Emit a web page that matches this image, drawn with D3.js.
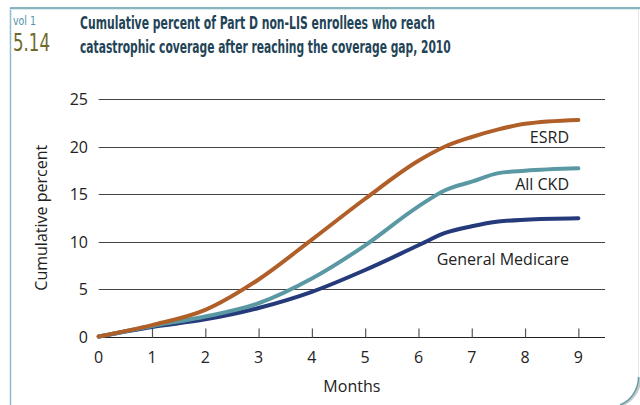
<!DOCTYPE html>
<html>
<head>
<meta charset="utf-8">
<script src="https://cdn.jsdelivr.net/npm/d3@7"></script>
<style>
  html, body { margin: 0; padding: 0; background: #fff; }
  svg { display: block; }
  text { font-family: "Open Sans", "Noto Sans", sans-serif; }
</style>
</head>
<body>
<svg id="chart" width="640" height="405"></svg>
<script>
// ---- data ----
const months      = [0, 1, 2, 3, 4, 5, 6, 6.5, 7, 7.5, 8, 9];
const esrd        = [0, 1.2, 2.8, 6.0, 10.2, 14.5, 18.5, 20.0, 21.0, 21.8, 22.4, 22.8];
const allCkd      = [0, 1.1, 2.1, 3.5, 6.1, 9.6, 13.7, 15.4, 16.3, 17.2, 17.45, 17.7];
const genMedicare = [0, 1.0, 1.8, 3.0, 4.7, 7.0, 9.6, 10.9, 11.6, 12.1, 12.3, 12.45];
const seriesNames = ["ESRD", "All CKD", "General Medicare"];
const xTicks = [1, 2, 3, 4, 5, 6, 7, 8, 9];
const xTickLabels = [0, 1, 2, 3, 4, 5, 6, 7, 8, 9];
const yTicks = [0, 5, 10, 15, 20, 25];

const svg = d3.select("#chart");

// ---- frame ----
svg.append("line").attr("x1", 10.5).attr("x2", 10.5).attr("y1", 8).attr("y2", 405)
  .attr("stroke", "#8fbdd0").attr("stroke-width", 1.5);
svg.append("line").attr("x1", 10).attr("x2", 640).attr("y1", 9.5).attr("y2", 9.5)
  .attr("stroke", "#dbe8ee").attr("stroke-width", 1);
svg.append("line").attr("x1", 10).attr("x2", 640).attr("y1", 8).attr("y2", 8)
  .attr("stroke", "#5f9ea8").attr("stroke-width", 1.5);
svg.append("line").attr("x1", 638.5).attr("x2", 638.5).attr("y1", 9).attr("y2", 377)
  .attr("stroke", "#e4e4e4").attr("stroke-width", 1);
svg.append("path").attr("d", "M640.5,377 A31,31 0 0 1 622,405")
  .attr("fill", "none").attr("stroke", "#c8c8c8").attr("stroke-width", 2.5);
svg.append("path").attr("d", "M638.5,377 A30,30 0 0 1 620,405")
  .attr("fill", "none").attr("stroke", "#5f9ea8").attr("stroke-width", 1.5);

// ---- titles (horizontally scaled to the reference widths) ----
const narrow = "'Liberation Sans Narrow', 'DejaVu Sans Condensed', 'Open Sans', sans-serif";
function fitText(str, x0, y0, width, size, weight, color) {
  const t = svg.append("text").attr("x", 0).attr("y", 0).text(str)
    .attr("fill", color).attr("font-size", size).attr("font-weight", weight)
    .style("font-family", narrow);
  const w = t.node().getComputedTextLength();
  t.attr("transform", `translate(${x0},${y0}) scale(${width / w},1)`);
  return t;
}
fitText("vol 1", 13, 24.5, 23, 13, 400, "#4d93a8");
fitText("5.14", 13, 50.5, 37, 25, 400, "#6f6a2a");
const titleLines = [
  "Cumulative percent of Part D non-LIS enrollees who reach",
  "catastrophic coverage after reaching the coverage gap, 2010"
];
const titleLens = [355, 371];
titleLines.forEach((t, i) => fitText(t, 80, 28.5 + i * 24.5, titleLens[i], 18.5, 700, "#1f4457"));

// ---- scales ----
const x = d3.scaleLinear().domain([0, 9.5]).range([98.7, 605]);
const y = d3.scaleLinear().domain([0, 25]).range([336.5, 99]);

// gridlines
svg.append("g").selectAll("line").data(yTicks.filter(d => d > 0)).join("line")
  .attr("x1", x(0)).attr("x2", x(9.5))
  .attr("y1", d => Math.round(y(d)) + 0.5).attr("y2", d => Math.round(y(d)) + 0.5)
  .attr("stroke", "#444").attr("stroke-width", 1);

// x axis
const xAxis = d3.axisBottom(x).tickValues(xTicks).tickSize(-9).tickFormat("");
const gx = svg.append("g").attr("transform", `translate(0,${Math.round(y(0)) + 0.5})`).call(xAxis);
gx.select(".domain").attr("d", `M${x(0)},0H${x(9.5)}`).attr("stroke", "#222").attr("stroke-width", 1.2);
gx.selectAll(".tick line").attr("stroke", "#555").attr("stroke-width", 1.2);

svg.append("g").selectAll("text").data(xTickLabels).join("text")
  .attr("x", d => x(d)).attr("y", 363).attr("text-anchor", "middle")
  .attr("font-size", 16).attr("fill", "#222").text(d => d);

// y axis labels
const yAxis = d3.axisLeft(y).tickValues(yTicks).tickSize(0).tickPadding(0);
const gy = svg.append("g").attr("transform", `translate(88,0)`).call(yAxis);
gy.select(".domain").remove();
gy.selectAll(".tick text").attr("font-size", 16).attr("fill", "#222")
  .style("font-family", "'Open Sans', sans-serif").attr("dy", "0.36em");

// axis titles
svg.append("text").attr("transform", `translate(47,${(y(0) + y(25)) / 2}) rotate(-90)`)
  .attr("text-anchor", "middle").attr("font-size", 16).attr("fill", "#222")
  .text("Cumulative percent");
svg.append("text").attr("x", (x(0) + x(9.5)) / 2).attr("y", 392)
  .attr("text-anchor", "middle").attr("font-size", 16).attr("fill", "#222").text("Months");

// ---- lines ----
const series = [
  { name: seriesNames[2], values: genMedicare, color: "#253a7b" },
  { name: seriesNames[1], values: allCkd, color: "#5a98a3" },
  { name: seriesNames[0], values: esrd, color: "#b05f28" }
];
const line = d3.line().x(d => x(d[0])).y(d => y(d[1])).curve(d3.curveMonotoneX);
series.forEach(s => {
  svg.append("path").datum(months.map((m, i) => [m, s.values[i]]))
    .attr("d", line).attr("fill", "none").attr("stroke", s.color)
    .attr("stroke-width", 4).attr("stroke-linecap", "round").attr("stroke-linejoin", "round");
});

// series labels
const labelPos = [
  { t: seriesNames[0], yb: 142.5 },
  { t: seriesNames[1], yb: 190 },
  { t: seriesNames[2], yb: 265 }
];
svg.append("g").selectAll("text").data(labelPos).join("text")
  .attr("x", 569).attr("y", d => d.yb).attr("text-anchor", "end")
  .attr("font-size", 16).attr("fill", "#222").text(d => d.t);
</script>
</body>
</html>
